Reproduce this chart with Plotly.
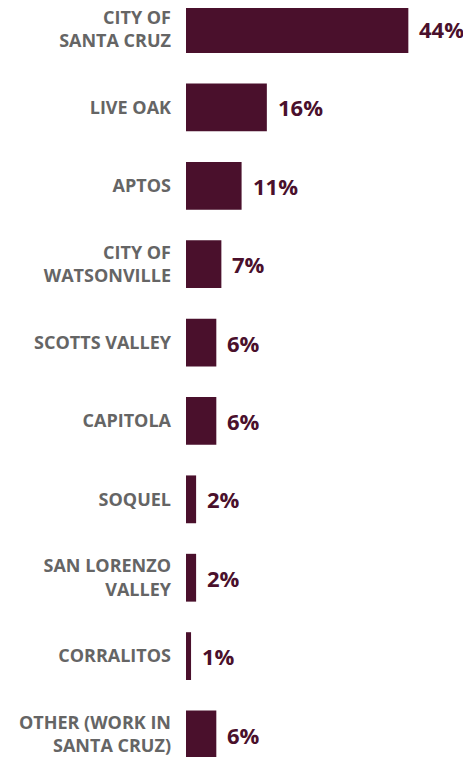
import plotly.graph_objects as go

places = ["CITY OF<br>SANTA CRUZ", "LIVE OAK", "APTOS", "CITY OF<br>WATSONVILLE",
          "SCOTTS VALLEY", "CAPITOLA", "SOQUEL", "SAN LORENZO<br>VALLEY",
          "CORRALITOS", "OTHER (WORK IN<br>SANTA CRUZ)"]
shares = [44, 16, 11, 7, 6, 6, 2, 2, 1, 6]

bar_color = "#4a102c"

fig = go.Figure(go.Bar(
    x=shares, y=places, orientation="h",
    marker=dict(color=bar_color, line=dict(width=0)),
    hoverinfo="skip",
))

for p, v in zip(places, shares):
    fig.add_annotation(
        x=v, y=p, text=f"<b>{v}%</b>", showarrow=False,
        xanchor="left", xshift=9,
        font=dict(family="Open Sans", size=22, color=bar_color),
    )

# page body has an 8px margin, so the figure is sized to fill the rest
fig.update_layout(
    width=463, height=749,
    margin=dict(l=178, r=0, t=0, b=0, autoexpand=False),
    plot_bgcolor="white", paper_bgcolor="white",
    bargap=0.39,
    showlegend=False,
    font=dict(family="Open Sans"),
)
fig.update_xaxes(range=[0, 56.4], visible=False, showgrid=False)
fig.update_yaxes(
    range=[9.287, -0.268], showgrid=False, zeroline=False, showline=False,
    ticks="", ticklabelstandoff=14,
    tickfont=dict(family="Open Sans", size=18, color="#656565", weight="bold"),
)

fig.write_html("out.html")
